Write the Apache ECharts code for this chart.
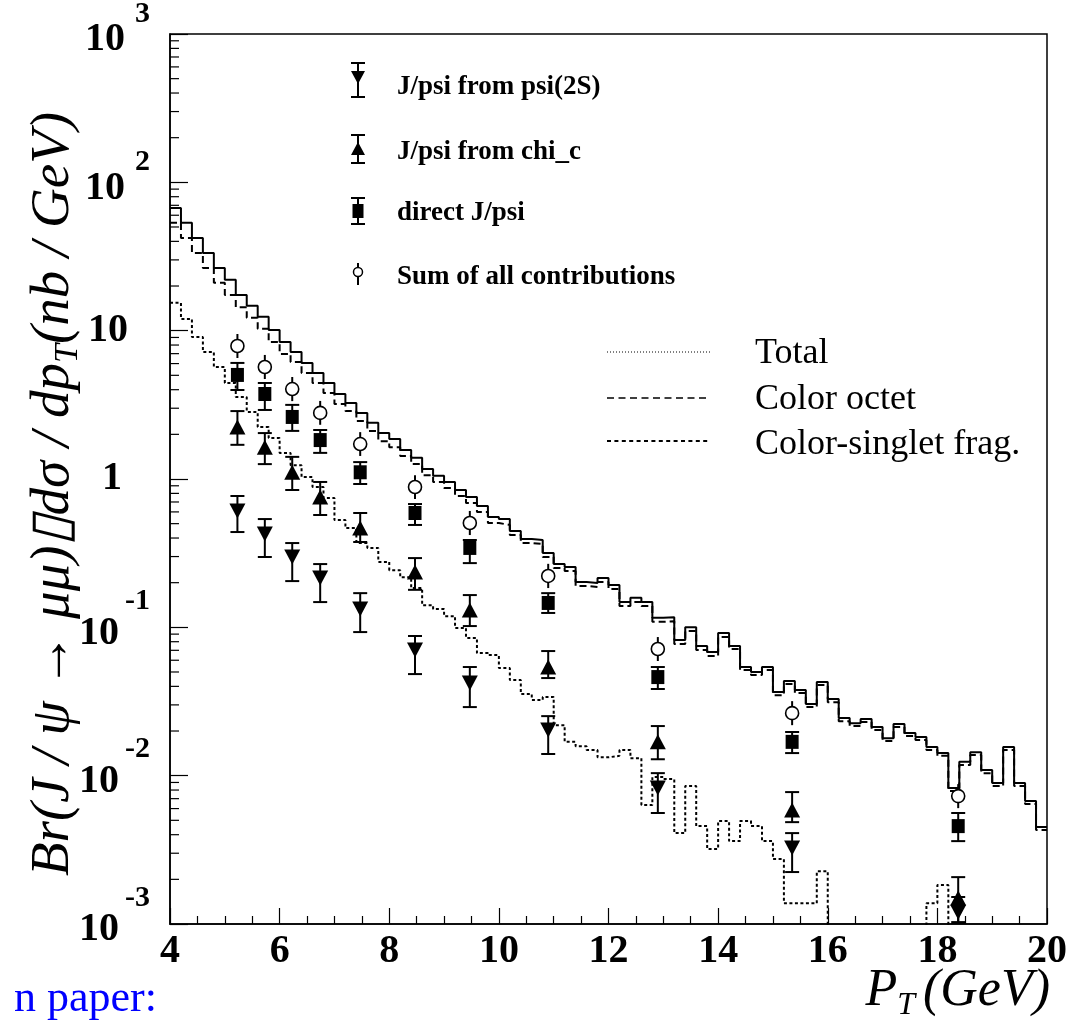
<!DOCTYPE html>
<html>
<head>
<meta charset="utf-8">
<script src="https://cdn.jsdelivr.net/npm/echarts@6/dist/echarts.min.js"></script>
<style>
html, body { margin: 0; padding: 0; background: #ffffff; }
#chart { width: 1080px; height: 1029px; }
</style>
</head>
<body>
<div id="chart"></div>
<script>
// ---------------- data ----------------
// Histogram binning (GeV)
const binStart = 4;
const binWidth = 0.2;

// Step histograms, one value per 0.2 GeV bin from 4 to 20 GeV (nb/GeV)
const totalVals = [
  67.2, 53.3, 42.2, 33.4, 26.5, 22.0, 17.4, 14.7, 12.4, 10.1,
  8.39, 7.18, 6.05, 5.19, 4.44, 3.74, 3.25, 2.79, 2.39, 2.04,
  1.86, 1.57, 1.39, 1.17, 1.05, 0.955, 0.843, 0.756, 0.658, 0.554,
  0.537, 0.446, 0.394, 0.388, 0.317, 0.267, 0.255, 0.202, 0.199, 0.215,
  0.193, 0.148, 0.158, 0.148, 0.116, 0.117, 0.082, 0.100, 0.0748, 0.0681,
  0.0916, 0.0748, 0.0540, 0.0500, 0.0540, 0.0366, 0.0434, 0.0378, 0.0304, 0.0428,
  0.0329, 0.0245, 0.0226, 0.0241, 0.0213, 0.0179, 0.0223, 0.0194, 0.0182, 0.0156,
  0.0142, 0.00825, 0.0124, 0.0144, 0.0109, 0.00891, 0.0156, 0.00891, 0.00674, 0.00450
];
const octetVals = [
  53.3, 42.2, 33.4, 26.5, 21.0, 17.4, 14.4, 12.2, 10.3, 8.39,
  6.97, 6.15, 5.19, 4.44, 3.80, 3.20, 2.87, 2.46, 2.11, 1.80,
  1.64, 1.43, 1.26, 1.06, 0.955, 0.870, 0.768, 0.689, 0.599, 0.505,
  0.490, 0.419, 0.370, 0.365, 0.298, 0.251, 0.240, 0.190, 0.187, 0.202,
  0.181, 0.139, 0.148, 0.139, 0.109, 0.110, 0.0771, 0.0944, 0.0703, 0.0640,
  0.0860, 0.0714, 0.0515, 0.0477, 0.0515, 0.0349, 0.0415, 0.0361, 0.0290, 0.0408,
  0.0313, 0.0233, 0.0216, 0.0230, 0.0203, 0.0171, 0.0213, 0.0185, 0.0174, 0.0149,
  0.0136, 0.00787, 0.0118, 0.0138, 0.0104, 0.00851, 0.0149, 0.00851, 0.00643, 0.00430
];
// empty bins (below the axis range) are given as 0.0001
const singletVals = [
  15.4, 12.0, 9.07, 7.18, 5.69, 4.44, 3.57, 2.83, 2.24, 1.89,
  1.50, 1.24, 1.03, 0.883, 0.745, 0.529, 0.467, 0.370, 0.343, 0.276,
  0.243, 0.218, 0.184, 0.141, 0.133, 0.119, 0.0989, 0.0847, 0.0671, 0.0650,
  0.0532, 0.0441, 0.0355, 0.0324, 0.0339, 0.0219, 0.0169, 0.0158, 0.0149, 0.0133,
  0.0136, 0.0149, 0.0131, 0.00634, 0.00979, 0.00948, 0.00410, 0.00851, 0.00457, 0.00320,
  0.00494, 0.00362, 0.00494, 0.00457, 0.00362, 0.00274, 0.00138, 0.00138, 0.00138, 0.00227,
  0.0001, 0.0001, 0.0001, 0.0001, 0.0001, 0.0001, 0.0001, 0.0001, 0.0001, 0.00138,
  0.00183, 0.0001, 0.0001, 0.0001, 0.0001, 0.0001, 0.0001, 0.0001, 0.0001, 0.0001
];

// Points with error bars
const ptPoints = [5.23, 5.73, 6.23, 6.74, 7.47, 8.47, 9.47, 10.9, 12.9, 15.35, 18.38];

const psiVal = [0.608, 0.426, 0.298, 0.215, 0.133, 0.0703, 0.0421, 0.0203, 0.00825, 0.00325, 0.00120];
const psiLo  = [0.439, 0.298, 0.205, 0.148, 0.0929, 0.0484, 0.0290, 0.0140, 0.00560, 0.00224, 0.00100];
const psiHi  = [0.768, 0.537, 0.370, 0.267, 0.170, 0.0874, 0.0540, 0.0252, 0.0104, 0.00410, 0.00152];

const chiVal = [2.24, 1.64, 1.11, 0.756, 0.467, 0.236, 0.131, 0.0540, 0.0169, 0.00586, 0.00150];
const chiLo  = [1.70, 1.26, 0.843, 0.572, 0.376, 0.179, 0.102, 0.0455, 0.0129, 0.00486, 0.00103];
const chiHi  = [2.87, 2.04, 1.41, 0.955, 0.590, 0.293, 0.165, 0.0692, 0.0216, 0.00775, 0.00207];

const dirVal = [5.03, 3.74, 2.62, 1.83, 1.11, 0.590, 0.343, 0.146, 0.0462, 0.0169, 0.00457];
const dirLo  = [3.98, 2.92, 2.11, 1.50, 0.925, 0.490, 0.271, 0.125, 0.0384, 0.0142, 0.00362];
const dirHi  = [6.06, 4.44, 3.16, 2.14, 1.30, 0.678, 0.388, 0.170, 0.0540, 0.0197, 0.00560];

const sumVal = [7.88, 5.69, 4.04, 2.79, 1.72, 0.883, 0.505, 0.222, 0.0714, 0.0264, 0.00728];
const sumLo  = [6.54, 4.72, 3.35, 2.32, 1.43, 0.733, 0.419, 0.184, 0.0593, 0.0219, 0.00604];
const sumHi  = [9.50, 6.86, 4.87, 3.36, 2.07, 1.06, 0.609, 0.268, 0.0860, 0.0318, 0.00877];

// Tick labels
const xTickLabels = ['4', '6', '8', '10', '12', '14', '16', '18', '20'];
const yTickBase = ['10', '10', '10', '1', '10', '10', '10'];   // for 10^-3 ... 10^3
const yTickExp  = ['-3', '-2', '-1', '', '', '2', '3'];
// Minor (log) tick mantissas inside each decade, and the decades
const yMinorMantissas = [2, 3, 4, 5, 6, 7, 8, 9];
const yDecades = [0.001, 0.01, 0.1, 1, 10, 100];

// Series names / legend texts
const markerNames = ['J/psi from psi(2S)', 'J/psi from chi_c', 'direct J/psi', 'Sum of all contributions'];
const lineNames = ['Total', 'Color octet', 'Color-singlet frag.'];

// ---------------- helpers ----------------
function histData(vals) {
  const d = vals.map(function (v, i) { return [+(binStart + binWidth * i).toFixed(2), v]; });
  d.push([+(binStart + binWidth * vals.length).toFixed(2), vals[vals.length - 1]]);
  return d;
}

const yMinorTicks = [];
yDecades.forEach(function (d) {
  yMinorMantissas.forEach(function (m) { yMinorTicks.push([4, +(m * d).toPrecision(3)]); });
});

const BLACK = '#000000';
const SERIF = '"Liberation Serif", "Times New Roman", serif';

function errorSeries(name, lo, hi, capHalf) {
  return {
    type: 'custom',
    name: name + ' errors',
    clip: true,
    z: 3,
    silent: true,
    data: ptPoints.map(function (x, i) { return [x, lo[i], hi[i]]; }),
    encode: { x: 0, y: [1, 2] },
    renderItem: function (params, api) {
      const x = api.value(0);
      const a = api.coord([x, api.value(1)]);
      const b = api.coord([x, api.value(2)]);
      const st = { stroke: BLACK, lineWidth: 2 };
      const ch = [{ type: 'line', shape: { x1: a[0], y1: a[1], x2: b[0], y2: b[1] }, style: st }];
      if (capHalf) {
        ch.push({ type: 'line', shape: { x1: a[0] - capHalf, y1: a[1], x2: a[0] + capHalf, y2: a[1] }, style: st });
        ch.push({ type: 'line', shape: { x1: b[0] - capHalf, y1: b[1], x2: b[0] + capHalf, y2: b[1] }, style: st });
      }
      return { type: 'group', children: ch };
    }
  };
}

function markerSeries(name, vals, symbol, size, rotate, itemStyle) {
  return {
    type: 'scatter',
    name: name,
    symbol: symbol,
    symbolSize: size,
    symbolRotate: rotate,
    z: 4,
    silent: true,
    itemStyle: itemStyle,
    data: ptPoints.map(function (x, i) { return [x, vals[i]]; })
  };
}

function yLabel(v) {
  const e = Math.round(Math.log10(v));
  const i = e + 3;
  if (i < 0 || i >= yTickBase.length) return '';
  if (yTickExp[i] === '') {
    return '{b|' + yTickBase[i] + '}{' + (yTickBase[i] === '1' ? 'sp1' : 'sp10') + '|}';
  }
  return '{bb|' + yTickBase[i] + '}{' + (yTickExp[i].charAt(0) === '-' ? 'en' : 'ep') + '|' + yTickExp[i] + '}';
}

// ---------------- chart ----------------
const chart = echarts.init(document.getElementById('chart'), null, { renderer: 'canvas' });

const xTitleRich = {
  p: { fontFamily: SERIF, fontStyle: 'italic', fontSize: 52, color: BLACK },
  t: { fontFamily: SERIF, fontStyle: 'italic', fontSize: 32, color: BLACK, padding: [30, 6, 0, 0] },
  g: { fontFamily: SERIF, fontStyle: 'italic', fontSize: 52, color: BLACK, padding: [0, 0, 0, 2] }
};
const LEG1_FONT = 'bold 27px ' + SERIF;

const option = {
  animation: false,
  backgroundColor: '#ffffff',
  grid: {
    left: 170, right: 33, top: 34, bottom: 105,
    containLabel: false,
    outerBoundsMode: 'none',
    show: true, borderColor: BLACK, borderWidth: 1.5, backgroundColor: 'transparent'
  },
  xAxis: {
    type: 'value', min: 4, max: 20, interval: 2,
    axisLine: { show: true, onZero: false, lineStyle: { color: BLACK, width: 1.5 } },
    axisTick: { show: true, inside: true, length: 16, lineStyle: { color: BLACK, width: 1.2 } },
    minorTick: { show: true, splitNumber: 4, length: 8, lineStyle: { color: BLACK, width: 1.2 } },
    splitLine: { show: false },
    minorSplitLine: { show: false },
    axisLabel: {
      margin: 8, color: BLACK, fontFamily: SERIF, fontWeight: 'bold', fontSize: 40,
      formatter: function (v) { const i = Math.round((v - 4) / 2); return xTickLabels[i] !== undefined ? xTickLabels[i] : ''; }
    }
  },
  yAxis: {
    type: 'log', logBase: 10, min: 0.001, max: 1000,
    axisLine: { show: true, lineStyle: { color: BLACK, width: 1.5 } },
    axisTick: { show: true, inside: true, length: 18, lineStyle: { color: BLACK, width: 1.2 } },
    minorTick: { show: false },
    splitLine: { show: false },
    minorSplitLine: { show: false },
    axisLabel: {
      margin: 20, color: BLACK, formatter: yLabel,
      rich: {
        b:   { fontFamily: SERIF, fontWeight: 'bold', fontSize: 40, color: BLACK },
        bb:  { fontFamily: SERIF, fontWeight: 'bold', fontSize: 40, color: BLACK, padding: [12, 0, 0, 0] },
        ep:  { fontFamily: SERIF, fontWeight: 'bold', fontSize: 30, color: BLACK, padding: [0, 0, 40, 10] },
        en:  { fontFamily: SERIF, fontWeight: 'bold', fontSize: 30, color: BLACK, padding: [0, 0, 52, 6] },
        sp10: { width: 22 },
        sp1:  { width: 28 }
      }
    },
    name: '{i|Br(J / ψ → μμ)▯dσ / dp}{s|T}{i|(nb / GeV)}',
    nameLocation: 'middle',
    nameRotate: 90,
    nameGap: 116,
    nameMoveOverlap: false,
    nameTextStyle: {
      verticalAlign: 'middle', align: 'center', color: BLACK, padding: [0, 30, 0, 0],
      rich: {
        i: { fontFamily: SERIF, fontStyle: 'italic', fontSize: 55, color: BLACK },
        s: { fontFamily: SERIF, fontStyle: 'italic', fontSize: 34, color: BLACK, padding: [28, 0, 0, 0] }
      }
    }
  },
  series: [
    { type: 'line', name: lineNames[0], step: 'end', symbol: 'none', clip: true, z: 2, silent: true,
      lineStyle: { color: BLACK, width: 2, type: 'solid' }, data: histData(totalVals) },
    { type: 'line', name: lineNames[1], step: 'end', symbol: 'none', clip: true, z: 2, silent: true,
      lineStyle: { color: BLACK, width: 2, type: [7, 4] }, data: histData(octetVals) },
    { type: 'line', name: lineNames[2], step: 'end', symbol: 'none', clip: true, z: 2, silent: true,
      lineStyle: { color: BLACK, width: 2, type: [3, 2.5] }, data: histData(singletVals) },

    // log minor ticks on the y axis (2..9 x 10^n), placed via the y scale
    { type: 'custom', name: 'y minor ticks', clip: false, silent: true, z: 5,
      data: yMinorTicks, encode: { x: 0, y: 1 },
      renderItem: function (params, api) {
        const p = api.coord([api.value(0), api.value(1)]);
        return { type: 'line', shape: { x1: p[0], y1: p[1], x2: p[0] + 9, y2: p[1] }, style: { stroke: BLACK, lineWidth: 1.2 } };
      } },

    errorSeries(markerNames[0], psiLo, psiHi, 7),
    errorSeries(markerNames[1], chiLo, chiHi, 7),
    errorSeries(markerNames[2], dirLo, dirHi, 7),
    errorSeries(markerNames[3], sumLo, sumHi, 0),

    markerSeries(markerNames[0], psiVal, 'triangle', [16, 15], 180, { color: BLACK, opacity: 1 }),
    markerSeries(markerNames[1], chiVal, 'triangle', [16, 15], 0, { color: BLACK, opacity: 1 }),
    markerSeries(markerNames[2], dirVal, 'rect', [13, 14], 0, { color: BLACK, opacity: 1 }),
    markerSeries(markerNames[3], sumVal, 'circle', 13, 0, { color: '#ffffff', borderColor: BLACK, borderWidth: 1.6, opacity: 1 })
  ],
  graphic: [
    // ----- x axis title -----
    { type: 'text', x: 1050, y: 991, silent: true,
      style: { text: '{p|P}{t|T}{g|(GeV)}', rich: xTitleRich, fill: BLACK, align: 'right', verticalAlign: 'middle' } },
    // ----- marker legend -----
    { type: 'group', silent: true, children: [
      // psi(2S): down triangle with capped bar
      { type: 'line', shape: { x1: 358, y1: 63, x2: 358, y2: 97 }, style: { stroke: BLACK, lineWidth: 2 } },
      { type: 'line', shape: { x1: 351, y1: 63, x2: 365, y2: 63 }, style: { stroke: BLACK, lineWidth: 2 } },
      { type: 'line', shape: { x1: 351, y1: 97, x2: 365, y2: 97 }, style: { stroke: BLACK, lineWidth: 2 } },
      { type: 'polygon', shape: { points: [[351, 71], [365, 71], [358, 84]] }, style: { fill: BLACK } },
      // chi_c: up triangle with capped bar
      { type: 'line', shape: { x1: 358, y1: 135, x2: 358, y2: 163 }, style: { stroke: BLACK, lineWidth: 2 } },
      { type: 'line', shape: { x1: 351, y1: 135, x2: 365, y2: 135 }, style: { stroke: BLACK, lineWidth: 2 } },
      { type: 'line', shape: { x1: 351, y1: 163, x2: 365, y2: 163 }, style: { stroke: BLACK, lineWidth: 2 } },
      { type: 'polygon', shape: { points: [[351, 155], [365, 155], [358, 142]] }, style: { fill: BLACK } },
      // direct: square with capped bar
      { type: 'line', shape: { x1: 358, y1: 198, x2: 358, y2: 224 }, style: { stroke: BLACK, lineWidth: 2 } },
      { type: 'line', shape: { x1: 351, y1: 198, x2: 365, y2: 198 }, style: { stroke: BLACK, lineWidth: 2 } },
      { type: 'line', shape: { x1: 351, y1: 224, x2: 365, y2: 224 }, style: { stroke: BLACK, lineWidth: 2 } },
      { type: 'rect', shape: { x: 352.5, y: 204, width: 11, height: 14 }, style: { fill: BLACK } },
      // sum: open circle with bar
      { type: 'line', shape: { x1: 358, y1: 263, x2: 358, y2: 285 }, style: { stroke: BLACK, lineWidth: 2 } },
      { type: 'circle', shape: { cx: 358, cy: 272, r: 4.5 }, style: { fill: '#ffffff', stroke: BLACK, lineWidth: 1.5 } },
      // texts
      { type: 'text', x: 397, y: 87, style: { text: markerNames[0], fill: BLACK, font: LEG1_FONT, verticalAlign: 'middle' } },
      { type: 'text', x: 397, y: 152, style: { text: markerNames[1], fill: BLACK, font: LEG1_FONT, verticalAlign: 'middle' } },
      { type: 'text', x: 397, y: 213, style: { text: markerNames[2], fill: BLACK, font: LEG1_FONT, verticalAlign: 'middle' } },
      { type: 'text', x: 397, y: 277, style: { text: markerNames[3], fill: BLACK, font: LEG1_FONT, verticalAlign: 'middle' } }
    ]},
    // ----- line legend -----
    { type: 'group', silent: true, children: [
      { type: 'line', shape: { x1: 607, y1: 352, x2: 710, y2: 352 }, style: { stroke: BLACK, lineWidth: 1, lineDash: [1, 2] } },
      { type: 'line', shape: { x1: 607, y1: 398, x2: 710, y2: 398 }, style: { stroke: BLACK, lineWidth: 1.5, lineDash: [7, 4.5] } },
      { type: 'line', shape: { x1: 607, y1: 441, x2: 710, y2: 441 }, style: { stroke: BLACK, lineWidth: 2.2, lineDash: [4, 3.4] } },
      { type: 'text', x: 755, y: 354, style: { text: lineNames[0], fill: BLACK, font: '36px ' + SERIF, verticalAlign: 'middle' } },
      { type: 'text', x: 755, y: 400, style: { text: lineNames[1], fill: BLACK, font: '36px ' + SERIF, verticalAlign: 'middle' } },
      { type: 'text', x: 755, y: 445, style: { text: lineNames[2], fill: BLACK, font: '36px ' + SERIF, verticalAlign: 'middle' } }
    ]},
    // ----- cut-off caption text at bottom-left -----
    { type: 'text', x: 157, y: 999, silent: true,
      style: { text: 'n paper:', fill: '#0000ff', font: '44px ' + SERIF, align: 'right', verticalAlign: 'middle' } }
  ]
};

chart.setOption(option);
</script>
</body>
</html>
